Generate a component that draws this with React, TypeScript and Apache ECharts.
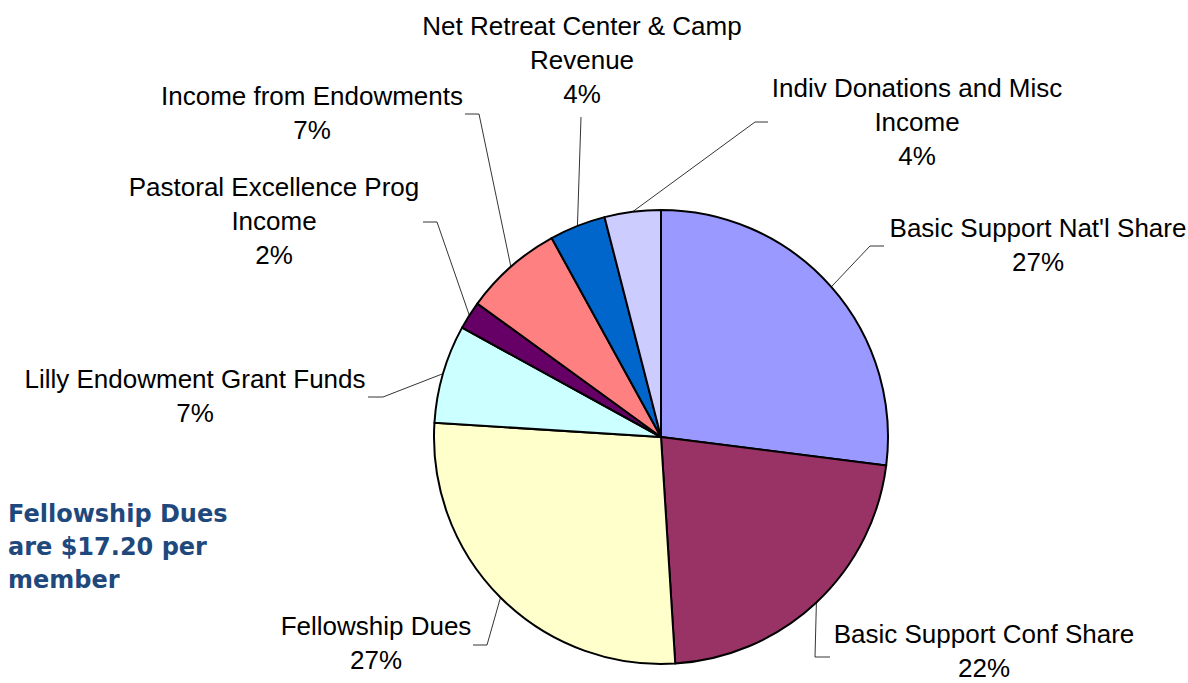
import React, { useEffect, useRef } from "react";
import * as echarts from "echarts";

const categories = [
  "Basic Support Nat'l Share",
  "Basic Support Conf Share",
  "Fellowship Dues",
  "Lilly Endowment Grant Funds",
  "Pastoral Excellence Prog\nIncome",
  "Income from Endowments",
  "Net Retreat Center & Camp\nRevenue",
  "Indiv Donations and Misc\nIncome",
];
const shares = [27, 22, 27, 7, 2, 7, 4, 4];
const colors = ["#9999FF", "#993366", "#FFFFCC", "#CCFFFF", "#660066", "#FF8080", "#0066CC", "#CCCCFF"];
const noteLines = ["Fellowship Dues", "are $17.20 per", "member"];

// label layout (center of text block) and leader-line elbows, in px
const labelPos = [
  { x: 1038, y: 245, e: [[870, 246], [884, 246]] },
  { x: 984, y: 651, e: [[815, 657], [830, 657]] },
  { x: 376, y: 643, e: [[487, 645], [473, 645]] },
  { x: 195, y: 396, e: [[383, 397], [368, 397]] },
  { x: 274, y: 221, e: [[437, 222], [423, 222]] },
  { x: 312, y: 113, e: [[479, 114], [465, 114]] },
  { x: 582, y: 60, e: [[581, 117], [581, 117]] },
  { x: 917, y: 122, e: [[755, 122], [768, 122]] },
];

export default function App() {
  const ref = useRef<HTMLDivElement>(null);
  useEffect(() => {
    if (!ref.current) return;
    const chart = echarts.init(ref.current, null, { renderer: "svg" });
    chart.setOption({
      animation: false,
      backgroundColor: "#ffffff",
      graphic: [
        {
          type: "text",
          left: 8,
          top: 497,
          style: {
            text: noteLines.join("\n"),
            font: "bold 24px 'DejaVu Sans'",
            fill: "#1F497D",
            lineHeight: 33,
          },
        },
      ],
      series: [
        {
          type: "pie",
          center: [661, 437],
          radius: 227,
          startAngle: 90,
          clockwise: true,
          avoidLabelOverlap: false,
          data: categories.map((name, i) => ({
            name,
            value: shares[i],
            itemStyle: { color: colors[i] },
          })),
          itemStyle: { borderColor: "#000", borderWidth: 2 },
          label: {
            show: true,
            position: "outside",
            formatter: (p: any) => `${p.name}\n${Math.round(p.percent)}%`,
            fontFamily: "'Liberation Sans', Arial, sans-serif",
            fontSize: 26,
            lineHeight: 34,
            color: "#000",
            align: "center",
          },
          labelLine: {
            show: true,
            length: 10,
            length2: 10,
            lineStyle: { color: "#000", width: 0.8 },
          },
          labelLayout: (params: any) => {
            const lp = labelPos[params.dataIndex];
            const start = params.labelLinePoints && params.labelLinePoints[0];
            const res: any = {
              x: lp.x,
              y: lp.y,
              align: "center",
              verticalAlign: "middle",
            };
            if (start) res.labelLinePoints = [start, lp.e[0], lp.e[1]];
            return res;
          },
          emphasis: { disabled: true },
        },
      ],
    });
    return () => chart.dispose();
  }, []);
  return (
    <div
      ref={ref}
      style={{ position: "fixed", left: 0, top: 0, width: 1188, height: 683 }}
    />
  );
}
